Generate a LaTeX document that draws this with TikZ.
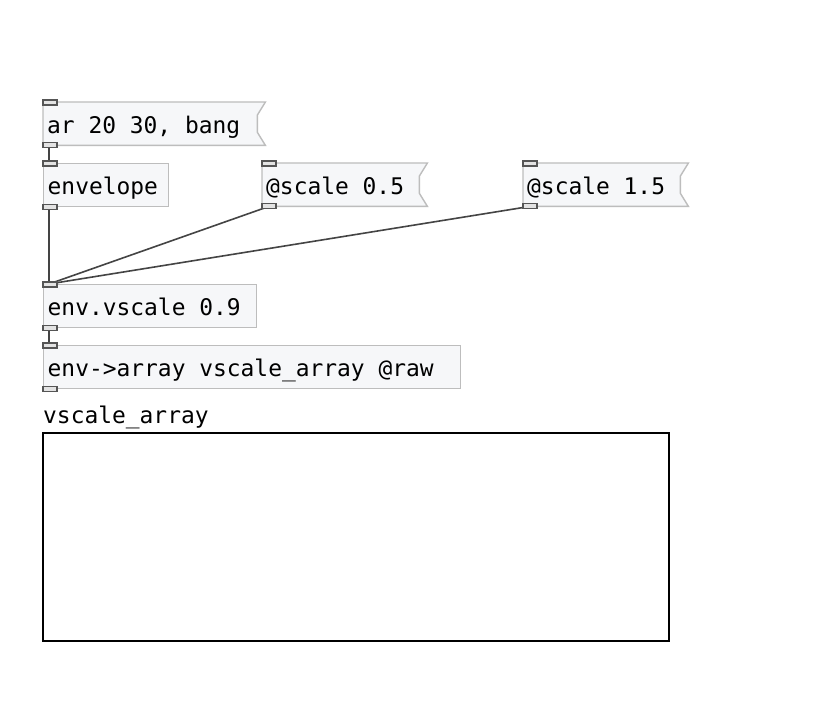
\documentclass[tikz,border=0pt]{standalone}
\usepackage{fontspec}
\newfontfamily\pdfont{DejaVu Sans Mono}
\usetikzlibrary{calc}
\definecolor{boxgray}{HTML}{BDBDBD}
\definecolor{boxfill}{HTML}{F6F7F9}
\definecolor{iolet}{HTML}{555555}
\definecolor{ioletfill}{HTML}{E3E3E3}
\definecolor{cord}{HTML}{444444}
\newcommand{\pdsp}{\hphantom{0}}
\tikzset{
  pdtext/.style={font=\pdfont\fontsize{22.9}{27}\selectfont, text=black},
  pdbox/.style={pdtext, anchor=north west, inner xsep=4pt, inner ysep=0pt,
    text height=31pt, text depth=12pt, align=left},
  objbox/.style={pdbox, draw=boxgray, fill=boxfill, line width=1.4pt},
  msgbox/.style={pdbox},
  msgshape/.style={draw=boxgray, line width=1.4pt},
  ioletbox/.style={draw=iolet, fill=ioletfill, line width=1.5pt},
  cordline/.style={draw=cord, line width=1.6pt},
}
\newcommand{\pdinlet}[1]{\draw[ioletbox] ($(#1.north west)+(0,-2)$) rectangle ($(#1.north west)+(14,3)$);}
\newcommand{\pdoutlet}[1]{\draw[ioletbox] ($(#1.south west)+(0,-3)$) rectangle ($(#1.south west)+(14,2)$);}
\newcommand{\pdmsg}[1]{\fill[boxfill] (#1.north west) -- (#1.north east) -- ($(#1.north east)+(-8,13)$) -- ($(#1.south east)+(-8,-13)$) -- (#1.south east) -- (#1.south west) -- cycle;
  \draw[msgshape] (#1.north west) -- (#1.north east) -- ($(#1.north east)+(-8,13)$) -- ($(#1.south east)+(-8,-13)$) -- (#1.south east) -- (#1.south west) -- cycle;}
\begin{document}
\begin{tikzpicture}[x=1pt,y=-1pt]
\fill[white] (0,0) rectangle (821,711);
\useasboundingbox (0,0) rectangle (821,711);

% message boxes (shape drawn behind text)
\node[msgbox, text width=214pt] (msgA) at (43,102) {\phantom{x}};
\node[msgbox, text width=157pt] (msgB) at (262,163) {\phantom{x}};
\node[msgbox, text width=157pt] (msgC) at (523,163) {\phantom{x}};
\pdmsg{msgA}
\pdmsg{msgB}
\pdmsg{msgC}
\node[msgbox, text width=214pt] at (43,102) {ar\pdsp20\pdsp30,\pdsp bang};
\node[msgbox, text width=157pt] at (262,163) {@scale\pdsp0.5};
\node[msgbox, text width=157pt] at (523,163) {@scale\pdsp1.5};

% object boxes
\node[objbox, text width=117pt] (envelope) at (43,163) {envelope};
\node[objbox, text width=205pt] (vscale) at (43,284) {env.vscale\pdsp0.9};
\node[objbox, text width=409pt] (toarray) at (43,345) {env->array\pdsp vscale\_array\pdsp@raw};

% cord end points
\coordinate (msgAout) at ($(msgA.south west)+(6,0)$);
\coordinate (envin) at ($(envelope.north west)+(6,0)$);
\coordinate (envout) at ($(envelope.south west)+(6,0)$);
\coordinate (msgBout) at ($(msgB.south west)+(7,0)$);
\coordinate (msgCout) at ($(msgC.south west)+(7,0)$);
\coordinate (vsin) at ($(vscale.north west)+(6,0)$);
\coordinate (vsout) at ($(vscale.south west)+(6,0)$);
\coordinate (arin) at ($(toarray.north west)+(6,0)$);

\draw[cordline] (msgAout) -- (envin);
\draw[cordline] (envout) -- (vsin);
\draw[cordline] (msgBout) -- (vsin);
\draw[cordline] (msgCout) -- (vsin);
\draw[cordline] (vsout) -- (arin);

% inlets / outlets
\pdoutlet{msgA}
\pdinlet{msgA}
\pdinlet{envelope}
\pdoutlet{envelope}
\pdinlet{msgB}
\pdoutlet{msgB}
\pdinlet{msgC}
\pdoutlet{msgC}
\pdinlet{vscale}
\pdoutlet{vscale}
\pdinlet{toarray}
\pdoutlet{toarray}

% array
\node[pdtext, anchor=base west, inner sep=0pt] (arrlabel) at (43,423) {vscale\_array};
\draw[black, line width=2.2pt] (43,433) rectangle (669,641);
\end{tikzpicture}
\end{document}
